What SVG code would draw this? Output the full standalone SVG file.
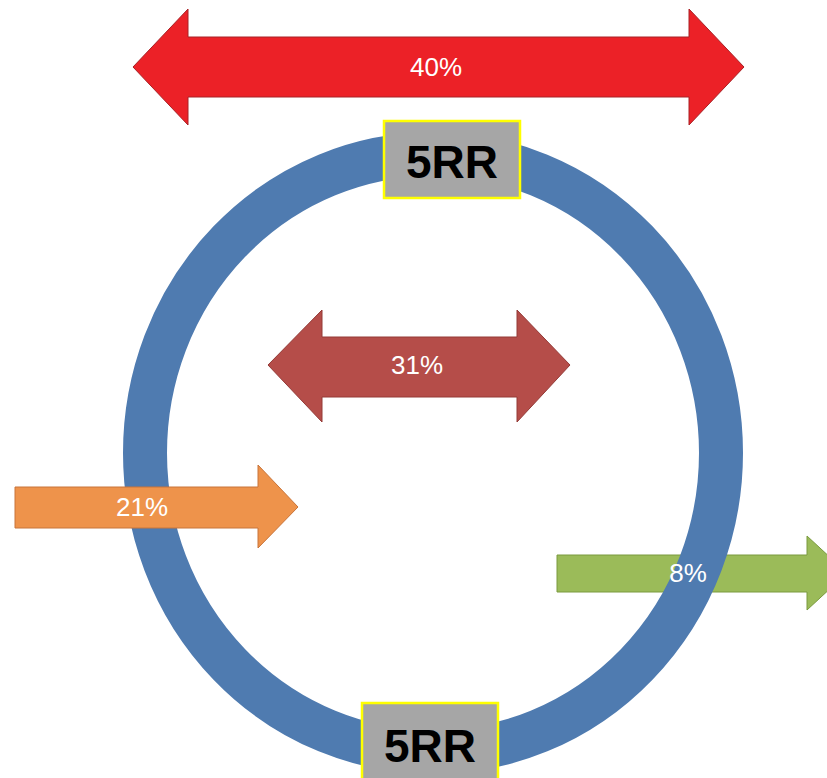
<svg xmlns="http://www.w3.org/2000/svg" width="827" height="778" viewBox="0 0 827 778">
<style>
.lbl{font-family:"Liberation Sans",Arial,sans-serif;font-size:26px;fill:#ffffff;text-anchor:middle;dominant-baseline:central}
.box{fill:#a6a6a6;stroke:#ffff00;stroke-width:2.5}
.boxt{font-family:"Liberation Sans",Arial,sans-serif;font-size:46px;font-weight:bold;fill:#000000;text-anchor:middle}
</style>
<rect x="0" y="0" width="827" height="778" fill="#ffffff"/>
<g id="arrow-8">
<polygon points="557,555 807,555 807,536 847,573 807,610 807,592 557,592" fill="#9bbb59" stroke="#7a9a3e" stroke-width="1"/>
</g>
<g id="ring">
<ellipse cx="433" cy="453" rx="288" ry="299" fill="none" stroke="#4f7bb0" stroke-width="44"/>
</g>
<g id="label-8">
<text class="lbl" x="688" y="573">8%</text>
</g>
<g id="arrow-21">
<polygon points="15,487 258,487 258,465 298,507 258,548 258,528 15,528" fill="#ee934b" stroke="#c8743a" stroke-width="1"/>
<text class="lbl" x="142" y="507">21%</text>
</g>
<g id="arrow-31">
<polygon points="268,365 322,310 322,337 517,337 517,310 570,365 517,422 517,397 322,397 322,422" fill="#b54d49" stroke="#943a37" stroke-width="1"/>
<text class="lbl" x="417" y="365">31%</text>
</g>
<g id="arrow-40">
<polygon points="133,67 188,9 188,37 689,37 689,9 744,67 689,125 689,97 188,97 188,125" fill="#ec2127" stroke="#a82226" stroke-width="1"/>
<text class="lbl" x="436" y="67">40%</text>
</g>
<g id="box-top">
<rect class="box" x="384" y="121" width="136" height="77"/>
<text class="boxt" x="452" y="178">5RR</text>
</g>
<g id="box-bottom">
<rect class="box" x="362" y="703" width="136" height="80"/>
<text class="boxt" x="430" y="762">5RR</text>
</g>
</svg>
